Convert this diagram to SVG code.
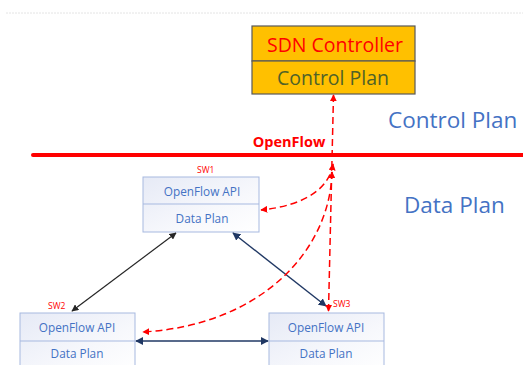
<svg xmlns="http://www.w3.org/2000/svg" width="523" height="365" viewBox="0 0 523 365">
  <style>
    .sw { fill: url(#swFill); stroke: #A7B9E0; stroke-width: 1; }
    .sw-txt { font-family: "Open Sans", "Noto Sans", sans-serif; font-size: 11.8px; fill: #4472C4; text-anchor: middle; }
    .sw-lbl { font-family: "Open Sans", "Noto Sans", sans-serif; font-size: 8.5px; fill: #FF0000; }
    .plane { font-family: "Open Sans", "Noto Sans", sans-serif; font-size: 22.5px; fill: #4472C4; }
    .ctrl { fill: #FFC000; stroke: #595959; stroke-width: 1.2; }
    .ctrl-txt { font-family: "Open Sans", "Noto Sans", sans-serif; font-size: 19.5px; text-anchor: middle; }
    .link-k { stroke: #262626; stroke-width: 1.2; fill: none; marker-start: url(#headK); marker-end: url(#headK); }
    .link-n { stroke: #203864; stroke-width: 1.4; fill: none; marker-start: url(#headN); marker-end: url(#headN); }
    .of { stroke: #FF0000; stroke-width: 1.5; stroke-dasharray: 7 4; fill: none; marker-start: url(#headR); marker-end: url(#headR); }
  </style>
  <defs>
    <linearGradient id="swFill" x1="0" y1="0" x2="1" y2="1">
      <stop offset="0" stop-color="#E6EAF6"/>
      <stop offset="0.6" stop-color="#F7F8FC"/>
      <stop offset="1" stop-color="#FFFFFF"/>
    </linearGradient>
    <marker id="headK" viewBox="0 0 10 10" refX="9" refY="5" markerWidth="7" markerHeight="7" markerUnits="userSpaceOnUse" orient="auto-start-reverse">
      <path d="M0,0 L10,5 L0,10 Z" fill="#262626"/>
    </marker>
    <marker id="headN" viewBox="0 0 10 10" refX="9" refY="5" markerWidth="8" markerHeight="8" markerUnits="userSpaceOnUse" orient="auto-start-reverse">
      <path d="M0,0 L10,5 L0,10 Z" fill="#203864"/>
    </marker>
    <marker id="headR" viewBox="0 0 10 10" refX="9" refY="5" markerWidth="7" markerHeight="7" markerUnits="userSpaceOnUse" orient="auto-start-reverse">
      <path d="M0,0 L10,5 L0,10 Z" fill="#FF0000"/>
    </marker>
  </defs>

  <rect width="523" height="365" fill="#FFFFFF"/>
  <!-- faint page edge -->
  <line x1="6" y1="13" x2="523" y2="13" stroke="#E4E4E4" stroke-width="1" stroke-dasharray="2 1"/>

  <!-- OpenFlow boundary between planes -->
  <g id="boundary">
    <line x1="33" y1="155" x2="523" y2="155" stroke="#FF0000" stroke-width="4" stroke-linecap="round"/>
    <text x="289" y="147" font-family="'Open Sans', 'Noto Sans', sans-serif" font-size="14.5" font-weight="bold" fill="#FF0000" text-anchor="middle">OpenFlow</text>
  </g>

  <text class="plane" x="388" y="128">Control Plan</text>
  <text class="plane" x="404" y="213">Data Plan</text>

  <g id="controller">
    <rect class="ctrl" x="252" y="26" width="163" height="35"/>
    <rect class="ctrl" x="252" y="61" width="163" height="33"/>
    <text class="ctrl-txt" x="335" y="52" fill="#FF0000">SDN Controller</text>
    <text class="ctrl-txt" x="333" y="85" fill="#4F6228">Control Plan</text>
  </g>

  <g id="sw1">
    <rect class="sw" x="143" y="177" width="116" height="55"/>
    <line x1="143" y1="204" x2="259" y2="204" stroke="#A7B9E0"/>
    <text class="sw-txt" x="202" y="196">OpenFlow API</text>
    <text class="sw-txt" x="202" y="223">Data Plan</text>
    <text class="sw-lbl" x="197" y="173">SW1</text>
  </g>

  <g id="sw2">
    <rect class="sw" x="20" y="313" width="115" height="60"/>
    <line x1="20" y1="341" x2="135" y2="341" stroke="#A7B9E0"/>
    <text class="sw-txt" x="77" y="332">OpenFlow API</text>
    <text class="sw-txt" x="77" y="358">Data Plan</text>
    <text class="sw-lbl" x="48" y="309">SW2</text>
  </g>

  <g id="sw3">
    <rect class="sw" x="269" y="313" width="115" height="60"/>
    <line x1="269" y1="341" x2="384" y2="341" stroke="#A7B9E0"/>
    <text class="sw-txt" x="326" y="332">OpenFlow API</text>
    <text class="sw-txt" x="326" y="358">Data Plan</text>
    <text class="sw-lbl" x="333" y="307">SW3</text>
  </g>

  <g id="connectors">
    <!-- data links between switches -->
    <line class="link-k" x1="176" y1="233" x2="72" y2="311"/>
    <line class="link-n" x1="233" y1="233" x2="326" y2="306"/>
    <line class="link-n" x1="136" y1="341" x2="268" y2="341"/>
    <!-- OpenFlow channels -->
    <line class="of" x1="333.5" y1="95" x2="328.5" y2="311"/>
    <path class="of" d="M333,164 C330,185 310,205 261,210"/>
    <path class="of" d="M332,172 C330,250 262,325 143,332"/>
  </g>
</svg>
